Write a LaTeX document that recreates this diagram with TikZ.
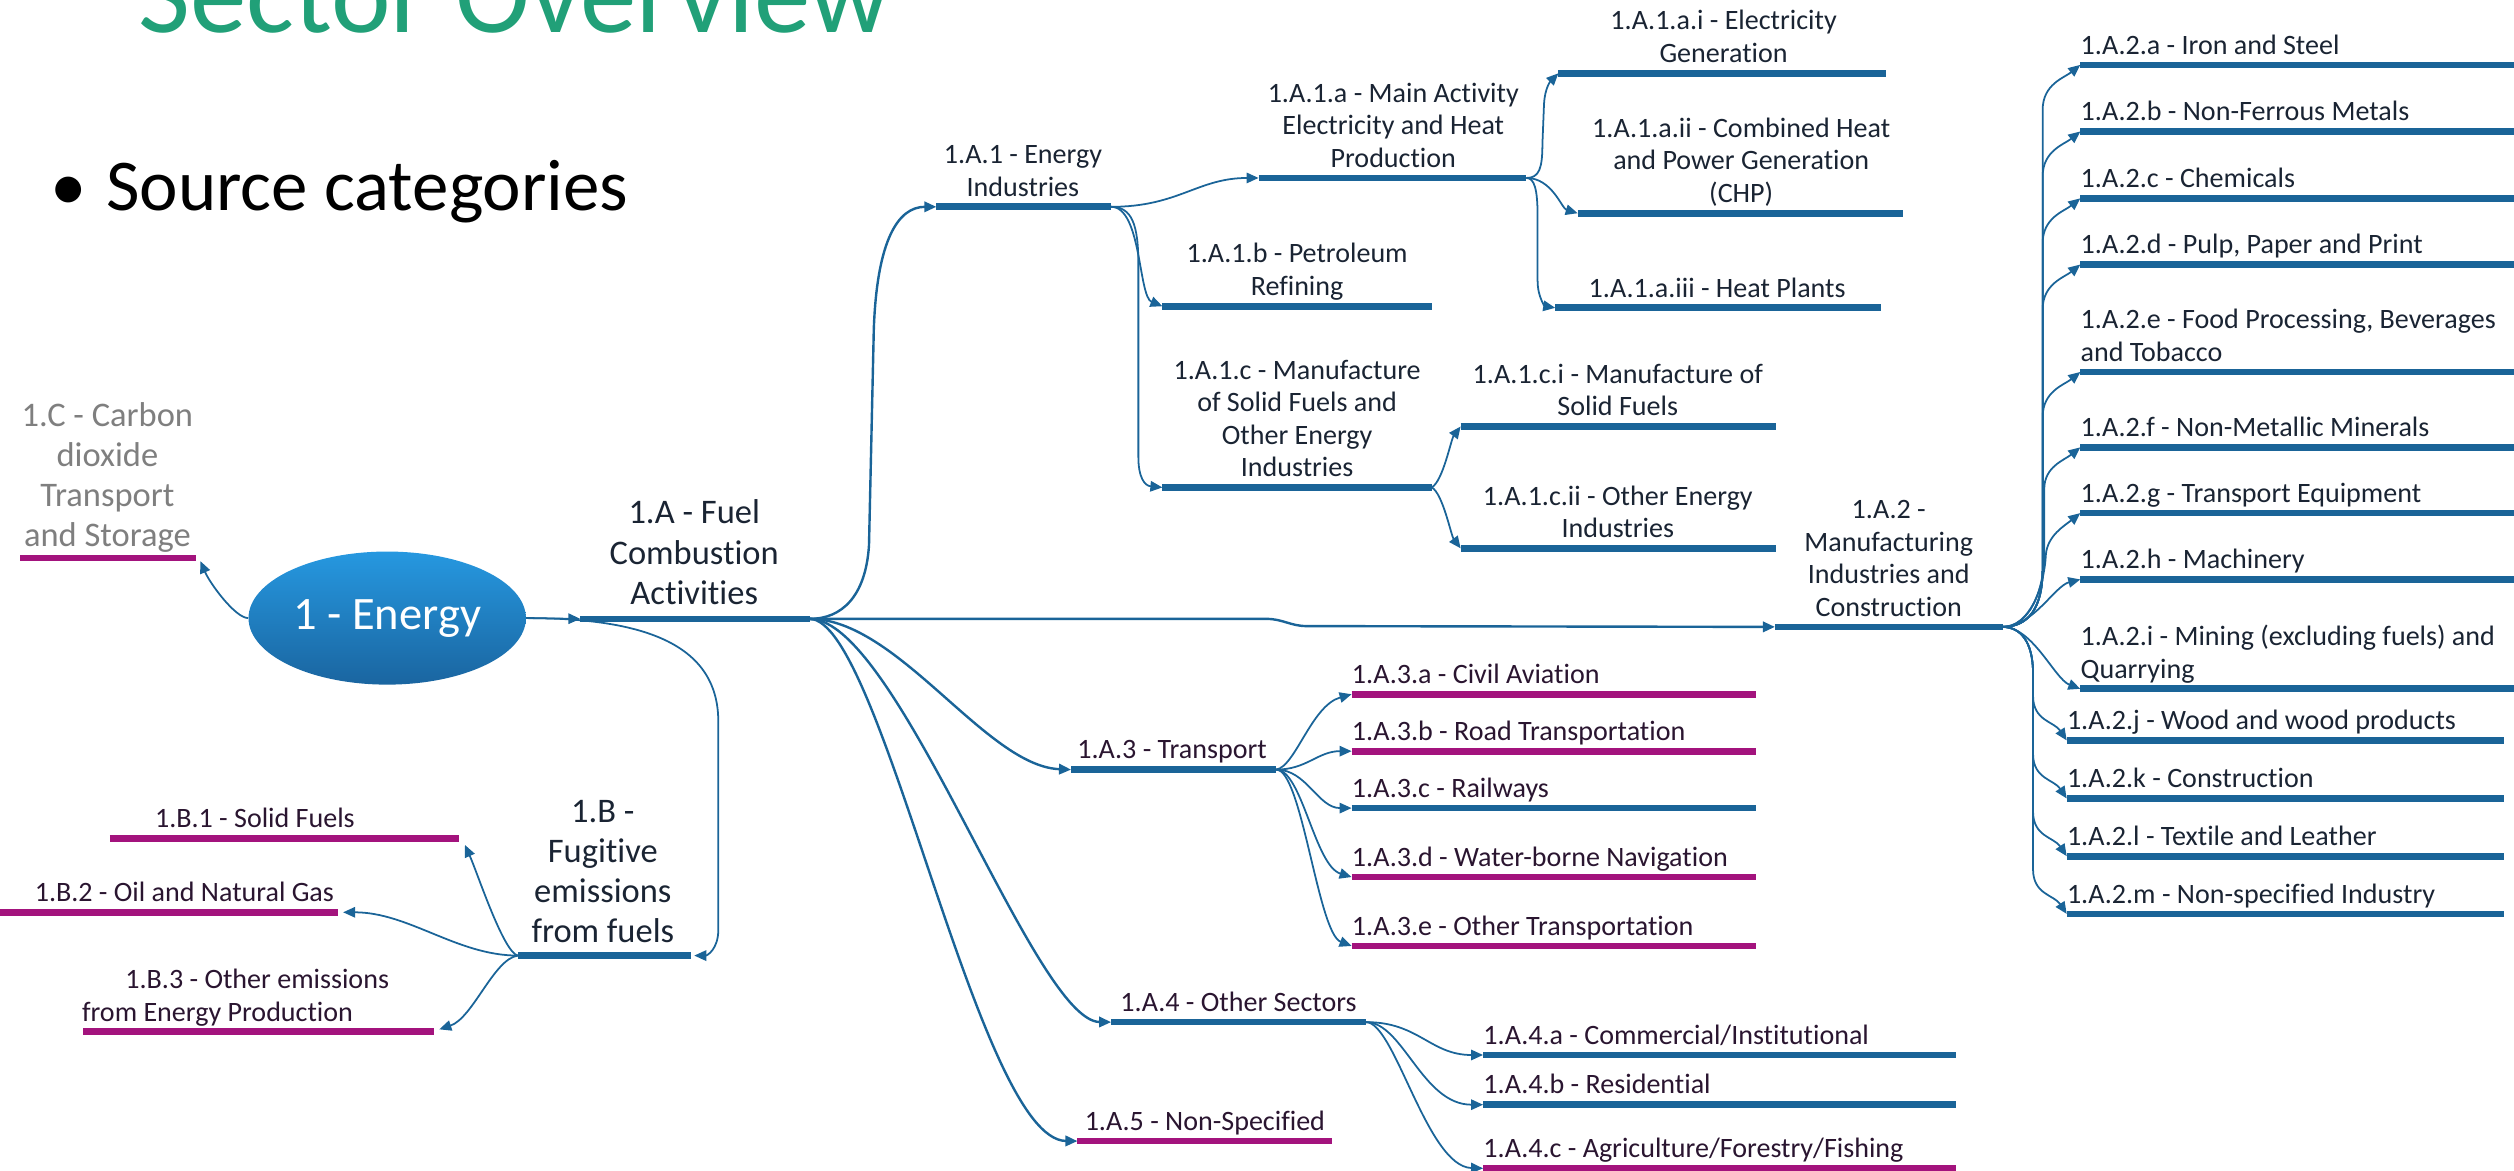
\documentclass[tikz,border=0pt]{standalone}
\usepackage{fontspec}
\setmainfont{Carlito}[Ligatures={NoCommon,NoContextual}]
\usetikzlibrary{arrows.meta,shapes.geometric}
\definecolor{barblue}{HTML}{1A6498}
\definecolor{barmag}{HTML}{A3137D}
\definecolor{titlegreen}{HTML}{21A078}
\definecolor{txtnavy}{HTML}{1A2433}
\definecolor{txtplum}{HTML}{2A1530}
\definecolor{txtgray}{HTML}{7F7F7F}
\definecolor{elltop}{HTML}{2698E0}
\definecolor{ellbot}{HTML}{1A65A0}
\newcommand\lastdp{\rule[-5pt]{0pt}{5pt}}
\newcommand\labfont{\fontsize{17.5pt}{20.3pt}\selectfont}
\newcommand\bigfont{\fontsize{21.5pt}{25pt}\selectfont}
\begin{document}
\begin{tikzpicture}[x=1pt,y=-1pt,
  bluebar/.style={draw=barblue,line width=4.2pt},
  magbar/.style={draw=barmag,line width=4.2pt},
  conn/.style={draw=barblue,line width=1.1pt,-{Triangle[length=7.5pt,width=6.5pt]}},
  mainconn/.style={conn,line width=1.5pt},
  lab/.style={anchor=south,inner sep=0pt,align=center,text=txtnavy,font=\labfont,execute at end node=\lastdp},
  labl/.style={lab,anchor=south west,align=left},
  plum/.style={text=txtplum},
  biglab/.style={lab,font=\bigfont}
]
\useasboundingbox (0,0) rectangle (1568,730.35);

% title and bullet
\node[anchor=base west,inner sep=0pt,text=titlegreen,font=\fontsize{70.5pt}{80pt}\selectfont] (title) at (86,20) {Sector Overview};
\node[anchor=base,inner sep=0pt,font=\fontsize{45.5pt}{50pt}\selectfont] (bullet) at (43,131) {•};
\node[anchor=base west,inner sep=0pt,font=\fontsize{45.5pt}{50pt}\selectfont] (srccat) at (66,131) {Source categories};

% root
\node[ellipse,minimum width=173pt,minimum height=83pt,inner sep=0pt,top color=elltop,bottom color=ellbot,draw=none,text=white,font=\fontsize{29pt}{32pt}\selectfont] (energy) at (241.5,385.5) {1 - Energy};

% 1.C
\coordinate (C-w) at (12.5,348); \coordinate (C-e) at (122,348); \coordinate (C-tip) at (125,350);
\draw[magbar] (C-w) -- (C-e);
\node[biglab,text=txtgray] (C) at (67,346) {1.C - Carbon\\dioxide\\Transport\\and Storage};
\draw[conn] (energy.west) .. controls +(-8,0) and +(6,14) .. (C-tip);

% 1.A
\coordinate (A-w) at (362,386); \coordinate (A-e) at (505,386);
\draw[bluebar] (A-w) -- (A-e);
\node[biglab] (A) at (433,382) {1.A - Fuel\\Combustion\\Activities};
\draw[conn] (energy.east) -- (A-w);

% 1.B
\coordinate (B-w) at (323,596); \coordinate (B-e) at (431,596); \coordinate (B-tip) at (433,596);
\draw[bluebar] (B-w) -- (B-e);
\node[biglab] (B) at (376,593) {1.B -\\Fugitive\\emissions\\from fuels};
\draw[conn] (energy.east) .. controls +(70,0) and +(0,-50) .. (448,450) -- (448,580) .. controls +(0,12) and +(8,0) .. (B-tip);

% 1.B children
\coordinate (B1-w) at (68.6,523); \coordinate (B1-e) at (286,523);
\draw[magbar] (B1-w) -- (B1-e);
\node[lab,plum] (B1) at (159,521.5) {1.B.1 - Solid Fuels};
\draw[conn] (B-w) .. controls (314,594) and (298,545) .. (290,527);
\coordinate (B2-w) at (-5,569); \coordinate (B2-e) at (211,569);
\draw[magbar] (B2-w) -- (B2-e);
\node[lab,plum] (B2) at (115,567.5) {1.B.2 - Oil and Natural Gas};
\draw[conn] (B-w) .. controls (285,596) and (255,569) .. (214,569);
\coordinate (B3-w) at (52,643.5); \coordinate (B3-e) at (270.5,643.5);
\draw[magbar] (B3-w) -- (B3-e);
\node[labl,plum] (B3) at (51,642) {\hspace*{27pt}1.B.3 - Other emissions\\from Energy Production};
\draw[conn] (B-w) .. controls (308,598) and (295,635) .. (274,642);

% 1.A.1
\coordinate (A1-w) at (584,129); \coordinate (A1-e) at (693,129);
\draw[bluebar] (A1-w) -- (A1-e);
\node[lab] (A1) at (638,127.5) {1.A.1 - Energy\\Industries};
\draw[mainconn] (A-e) .. controls (525,386) and (540,372) .. (542,340) -- (545,205) .. controls (547,150) and (560,129) .. (A1-w);

\coordinate (A1a-w) at (785,111); \coordinate (A1a-e) at (952,111);
\draw[bluebar] (A1a-w) -- (A1a-e);
\node[lab] (A1a) at (869,109.5) {1.A.1.a - Main Activity\\Electricity and Heat\\Production};
\draw[conn] (A1-e) .. controls +(42,0) and +(-38,0) .. (A1a-w);

\coordinate (A1b-w) at (725,191); \coordinate (A1b-e) at (893,191);
\draw[bluebar] (A1b-w) -- (A1b-e);
\node[lab] (A1b) at (809,189.5) {1.A.1.b - Petroleum\\Refining};
\draw[conn] (A1-e) .. controls +(19,0) and +(-15,-6) .. (A1b-w);

\coordinate (A1c-w) at (725,304); \coordinate (A1c-e) at (893,304);
\draw[bluebar] (A1c-w) -- (A1c-e);
\node[lab] (A1c) at (809,302.5) {1.A.1.c - Manufacture\\of Solid Fuels and\\Other Energy\\Industries};
\draw[conn] (A1-e) .. controls +(13,0) and +(0,-25) .. (710,165) -- (710,285) .. controls +(0,13) and +(-11,-1) .. (A1c-w);

\coordinate (A1ai-w) at (972,45.7); \coordinate (A1ai-e) at (1176,45.7);
\draw[bluebar] (A1ai-w) -- (A1ai-e);
\node[lab] (A1ai) at (1075,44.2) {1.A.1.a.i - Electricity\\Generation};
\draw[conn] (A1a-e) .. controls +(8,0) and +(0,15) .. (962,90) -- (963,65) .. controls +(0.5,-10) and +(-5,5) .. (A1ai-w);

\coordinate (A1aii-w) at (984,133); \coordinate (A1aii-e) at (1187,133);
\draw[bluebar] (A1aii-w) -- (A1aii-e);
\node[lab] (A1aii) at (1086,131.5) {1.A.1.a.ii - Combined Heat\\and Power Generation\\(CHP)};
\draw[conn] (A1a-e) .. controls +(16,0) and +(-10,-3) .. (A1aii-w);

\coordinate (A1aiii-w) at (970,192); \coordinate (A1aiii-e) at (1173,192);
\draw[bluebar] (A1aiii-w) -- (A1aiii-e);
\node[lab] (A1aiii) at (1071,190.5) {1.A.1.a.iii - Heat Plants};
\draw[conn] (A1a-e) .. controls +(5,0) and +(0,-17) .. (959,135) -- (959,175) .. controls +(0,11) and +(-6,-1) .. (A1aiii-w);

\coordinate (A1ci-w) at (911,266); \coordinate (A1ci-e) at (1108,266);
\draw[bluebar] (A1ci-w) -- (A1ci-e);
\node[lab] (A1ci) at (1009,264.5) {1.A.1.c.i - Manufacture of\\Solid Fuels};
\draw[conn] (A1c-e) .. controls +(7,-4) and +(-6,8) .. (A1ci-w);

\coordinate (A1cii-w) at (911,342); \coordinate (A1cii-e) at (1108,342);
\draw[bluebar] (A1cii-w) -- (A1cii-e);
\node[lab] (A1cii) at (1009,340.5) {1.A.1.c.ii - Other Energy\\Industries};
\draw[conn] (A1c-e) .. controls +(7,4) and +(-6,-8) .. (A1cii-w);

% 1.A.2
\coordinate (A2-w) at (1107,391); \coordinate (A2-e) at (1249,391);
\draw[bluebar] (A2-w) -- (A2-e);
\node[lab] (A2) at (1178,389.5) {1.A.2 -\\Manufacturing\\Industries and\\Construction};
\draw[mainconn] (A-e) -- (790,386) .. controls (800,386) and (805,390.5) .. (815,390.5) -- (A2-w);

% 1.A.2 children
\coordinate (A2a-w) at (1297.5,40.5); \coordinate (A2a-e) at (1570,40.5);
\coordinate (A2b-w) at (1297.5,82); \coordinate (A2b-e) at (1570,82);
\coordinate (A2c-w) at (1297.5,123.7); \coordinate (A2c-e) at (1570,123.7);
\coordinate (A2d-w) at (1297.5,165); \coordinate (A2d-e) at (1570,165);
\coordinate (A2e-w) at (1297.5,232); \coordinate (A2e-e) at (1570,232);
\coordinate (A2f-w) at (1297.5,279); \coordinate (A2f-e) at (1570,279);
\coordinate (A2g-w) at (1297.5,320); \coordinate (A2g-e) at (1570,320);
\coordinate (A2h-w) at (1297.5,361.4); \coordinate (A2h-e) at (1570,361.4);
\coordinate (A2i-w) at (1297.5,429.6); \coordinate (A2i-e) at (1570,429.6);
\coordinate (A2j-w) at (1289,461.8); \coordinate (A2j-e) at (1562,461.8);
\coordinate (A2k-w) at (1289,498); \coordinate (A2k-e) at (1562,498);
\coordinate (A2l-w) at (1289,534); \coordinate (A2l-e) at (1562,534);
\coordinate (A2m-w) at (1289,570); \coordinate (A2m-e) at (1562,570);
\foreach \k in {a,b,c,d,e,f,g,h,i,j,k,l,m} {\draw[bluebar] (A2\k-w) -- (A2\k-e);}
\node[labl] (A2a) at (1297.5,39) {1.A.2.a - Iron and Steel};
\node[labl] (A2b) at (1297.5,80.5) {1.A.2.b - Non-Ferrous Metals};
\node[labl] (A2c) at (1297.5,122.2) {1.A.2.c - Chemicals};
\node[labl] (A2d) at (1297.5,163.5) {1.A.2.d - Pulp, Paper and Print};
\node[labl] (A2e) at (1297.5,230.5) {1.A.2.e - Food Processing, Beverages\\and Tobacco};
\node[labl] (A2f) at (1297.5,277.5) {1.A.2.f - Non-Metallic Minerals};
\node[labl] (A2g) at (1297.5,318.5) {1.A.2.g - Transport Equipment};
\node[labl] (A2h) at (1297.5,359.9) {1.A.2.h - Machinery};
\node[labl] (A2i) at (1297.5,428.1) {1.A.2.i - Mining (excluding fuels) and\\Quarrying};
\node[labl] (A2j) at (1289,460.3) {1.A.2.j - Wood and wood products};
\node[labl] (A2k) at (1289,496.5) {1.A.2.k - Construction};
\node[labl] (A2l) at (1289,532.5) {1.A.2.l - Textile and Leather};
\node[labl] (A2m) at (1289,568.5) {1.A.2.m - Non-specified Industry};
\draw[conn] (A2-e) .. controls +(17,0) and +(0,23) .. (1274,355) -- (1274,68.5) .. controls +(0,-16) and +(-10,8) .. (A2a-w);
\draw[conn] (A2-e) .. controls +(17,0) and +(0,23) .. (1274,355) -- (1274,110) .. controls +(0,-16) and +(-10,8) .. (A2b-w);
\draw[conn] (A2-e) .. controls +(17,0) and +(0,23) .. (1274,355) -- (1274,151.7) .. controls +(0,-16) and +(-10,8) .. (A2c-w);
\draw[conn] (A2-e) .. controls +(17,0) and +(0,23) .. (1274,355) -- (1274,193) .. controls +(0,-16) and +(-10,8) .. (A2d-w);
\draw[conn] (A2-e) .. controls +(17,0) and +(0,23) .. (1274,355) -- (1274,260) .. controls +(0,-16) and +(-10,8) .. (A2e-w);
\draw[conn] (A2-e) .. controls +(17,0) and +(0,23) .. (1275,345) -- (1275,305) .. controls +(0,-14) and +(-10,8) .. (A2f-w);
\draw[conn] (A2-e) .. controls +(17,0) and +(-1,20) .. (1276,346) .. controls +(1,-12) and +(-10,8) .. (A2g-w);
\draw[conn] (A2-e) .. controls +(19,0) and +(-16,4) .. (A2h-w);
\draw[conn] (A2-e) .. controls +(19,0) and +(-16,-6) .. (A2i-w);
\draw[conn] (A2-e) .. controls +(11,0) and +(0,-20) .. (1268,420) -- (1268,433.8) .. controls +(0,16) and +(-8,-12) .. (A2j-w);
\draw[conn] (A2-e) .. controls +(11,0) and +(0,-20) .. (1268,420) -- (1268,470) .. controls +(0,16) and +(-8,-12) .. (A2k-w);
\draw[conn] (A2-e) .. controls +(11,0) and +(0,-20) .. (1268,420) -- (1268,506) .. controls +(0,16) and +(-8,-12) .. (A2l-w);
\draw[conn] (A2-e) .. controls +(11,0) and +(0,-20) .. (1268,420) -- (1268,542) .. controls +(0,16) and +(-8,-12) .. (A2m-w);

% 1.A.3
\coordinate (A3-w) at (668,480); \coordinate (A3-e) at (796,480);
\draw[bluebar] (A3-w) -- (A3-e);
\node[lab,plum] (A3) at (731,478.5) {1.A.3 - Transport};
\draw[mainconn] (A-e) .. controls (560,386) and (615,478) .. (A3-w);
\coordinate (A3a-w) at (843,433); \coordinate (A3a-e) at (1095,433);
\coordinate (A3b-w) at (843,468.5); \coordinate (A3b-e) at (1095,468.5);
\coordinate (A3c-w) at (843,504); \coordinate (A3c-e) at (1095,504);
\coordinate (A3d-w) at (843,547); \coordinate (A3d-e) at (1095,547);
\coordinate (A3e-w) at (843,590); \coordinate (A3e-e) at (1095,590);
\draw[magbar] (A3a-w) -- (A3a-e);
\draw[magbar] (A3b-w) -- (A3b-e);
\draw[bluebar] (A3c-w) -- (A3c-e);
\draw[magbar] (A3d-w) -- (A3d-e);
\draw[magbar] (A3e-w) -- (A3e-e);
\node[labl,plum] (A3a) at (843,431.5) {1.A.3.a - Civil Aviation};
\node[labl,plum] (A3b) at (843,467) {1.A.3.b - Road Transportation};
\node[labl,plum] (A3c) at (843,502.5) {1.A.3.c - Railways};
\node[labl,plum] (A3d) at (843,545.5) {1.A.3.d - Water-borne Navigation};
\node[labl,plum] (A3e) at (843,588.5) {1.A.3.e - Other Transportation};
\draw[conn] (A3-e) .. controls +(12,-2) and +(-25,7) .. (A3a-w);
\draw[conn] (A3-e) .. controls +(19,0) and +(-21,0) .. (A3b-w);
\draw[conn] (A3-e) .. controls +(19,0) and +(-21,0) .. (A3c-w);
\draw[conn] (A3-e) .. controls +(16,0) and +(-23,-7) .. (A3d-w);
\draw[conn] (A3-e) .. controls +(16,0) and +(-21,-8) .. (A3e-w);

% 1.A.4
\coordinate (A4-w) at (693,637.5); \coordinate (A4-e) at (852,637.5);
\draw[bluebar] (A4-w) -- (A4-e);
\node[lab,plum] (A4) at (772.5,636) {1.A.4 - Other Sectors};
\draw[mainconn] (A-e) .. controls (560,386) and (645,637) .. (A4-w);
\coordinate (A4a-w) at (925,658); \coordinate (A4a-e) at (1220,658);
\coordinate (A4b-w) at (925,689); \coordinate (A4b-e) at (1220,689);
\coordinate (A4c-w) at (925,728.7); \coordinate (A4c-e) at (1220,728.7);
\draw[bluebar] (A4a-w) -- (A4a-e);
\draw[bluebar] (A4b-w) -- (A4b-e);
\draw[magbar] (A4c-w) -- (A4c-e);
\node[labl,plum] (A4a) at (925,656.5) {1.A.4.a - Commercial/Institutional};
\node[labl,plum] (A4b) at (925,687.5) {1.A.4.b - Residential};
\node[labl,plum] (A4c) at (925,727.2) {1.A.4.c - Agriculture/Forestry/Fishing};
\draw[conn] (A4-e) .. controls +(33,0) and +(-33,0) .. (A4a-w);
\draw[conn] (A4-e) .. controls +(23,0) and +(-38,0) .. (A4b-w);
\draw[conn] (A4-e) .. controls +(18,0) and +(-35,-1) .. (A4c-w);

% 1.A.5
\coordinate (A5-w) at (672,711.7); \coordinate (A5-e) at (831,711.7);
\draw[magbar] (A5-w) -- (A5-e);
\node[lab,plum] (A5) at (751.5,710.2) {1.A.5 - Non-Specified};
\draw[mainconn] (A-e) .. controls (550,386) and (610,711) .. (A5-w);
\end{tikzpicture}
\end{document}
